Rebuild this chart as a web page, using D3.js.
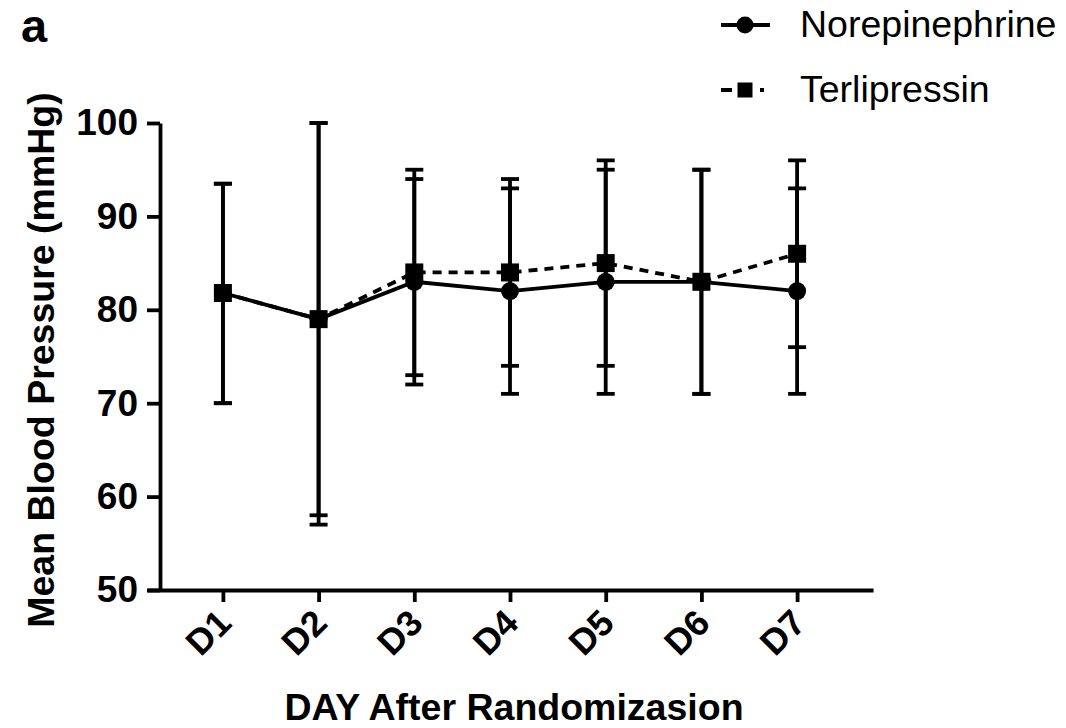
<!DOCTYPE html>
<html>
<head>
<meta charset="utf-8">
<script src="https://cdn.jsdelivr.net/npm/d3@7"></script>
<style>
  html, body { margin: 0; padding: 0; background: #fff; }
  svg { display: block; }
  text { font-family: "Liberation Sans", Arial, sans-serif; fill: #000; }
</style>
</head>
<body>
<svg id="chart" width="1066" height="728"></svg>
<script>
// ---- data ----
const days = ["D1", "D2", "D3", "D4", "D5", "D6", "D7"];
const norMean  = [81.8, 79, 83, 82, 83, 83, 82];
const norUpper = [93.5, 100, 94, 93, 95, 95, 93];
const norLower = [70, 57, 72, 71, 71, 71, 71];
const terMean  = [81.8, 79, 84, 84, 85, 83, 86];
const terUpper = [93.5, 100, 95, 94, 96, 95, 96];
const terLower = [70, 58, 73, 74, 74, 71, 76];
const yTicks = [50, 60, 70, 80, 90, 100];
const seriesNames = ["Norepinephrine", "Terlipressin"];

// ---- layout ----
const svg = d3.select("#chart");
const x = d3.scalePoint().domain(days).range([147, 873]).padding(0.793);
const y = d3.scaleLinear().domain([50, 100]).range([590, 123]);
const SW = 3.8;

// axes
const yAxis = d3.axisLeft(y).tickValues(yTicks).tickSize(13).tickSizeOuter(0).tickPadding(9);
const gy = svg.append("g").attr("transform", "translate(160,0)").call(yAxis);
gy.select(".domain").attr("stroke-width", SW);
gy.selectAll(".tick line").attr("stroke-width", SW);
gy.selectAll(".tick text").attr("font-size", 37).attr("font-weight", "bold")
  .attr("font-family", "Liberation Sans, Arial, sans-serif");

const xAxis = d3.axisBottom(x).tickSize(12).tickSizeOuter(0);
const gx = svg.append("g").attr("transform", "translate(0,590)").call(xAxis);
gx.select(".domain").attr("stroke-width", SW);
gx.selectAll(".tick line").attr("stroke-width", SW);
gx.selectAll(".tick text")
  .attr("font-size", 36).attr("font-weight", "bold")
  .attr("font-family", "Liberation Sans, Arial, sans-serif")
  .attr("text-anchor", "end")
  .attr("dy", null)
  .attr("y", 0)
  .attr("transform", "translate(10,35) rotate(-45)");

// error bars
function errorBars(mean, lower, upper, cls) {
  const g = svg.append("g").attr("class", cls).attr("stroke", "#000").attr("stroke-width", SW);
  days.forEach((d, i) => {
    const cx = x(d);
    g.append("line").attr("x1", cx).attr("x2", cx).attr("y1", y(upper[i])).attr("y2", y(lower[i]));
    [upper[i], lower[i]].forEach(v => {
      g.append("line").attr("x1", cx - 9).attr("x2", cx + 9).attr("y1", y(v)).attr("y2", y(v));
    });
  });
}
errorBars(norMean, norLower, norUpper, "err-nor");
errorBars(terMean, terLower, terUpper, "err-ter");

// lines
const line = d3.line().x((v, i) => x(days[i])).y(v => y(v));
svg.append("path").attr("d", line(norMean)).attr("fill", "none")
  .attr("stroke", "#000").attr("stroke-width", SW);
svg.append("path").attr("d", line(terMean)).attr("fill", "none")
  .attr("stroke", "#000").attr("stroke-width", SW).attr("stroke-dasharray", "9,7");

// markers
svg.append("g").selectAll("circle").data(norMean).join("circle")
  .attr("cx", (v, i) => x(days[i])).attr("cy", v => y(v)).attr("r", 9).attr("fill", "#000");
svg.append("g").selectAll("rect").data(terMean).join("rect")
  .attr("x", (v, i) => x(days[i]) - 9).attr("y", v => y(v) - 9)
  .attr("width", 18).attr("height", 18).attr("fill", "#000");

// axis titles
svg.append("text").attr("transform", "translate(54,360) rotate(-90)")
  .attr("text-anchor", "middle").attr("font-size", 37.5).attr("font-weight", "bold")
  .text("Mean Blood Pressure (mmHg)");
svg.append("text").attr("x", 514).attr("y", 720)
  .attr("text-anchor", "middle").attr("font-size", 37.5).attr("font-weight", "bold")
  .text("DAY After Randomizasion");

// panel letter
svg.append("text").attr("x", 21).attr("y", 42).attr("font-size", 47).attr("font-weight", "bold").text("a");

// legend
const lg = svg.append("g");
lg.append("line").attr("x1", 721).attr("x2", 770).attr("y1", 25).attr("y2", 25)
  .attr("stroke", "#000").attr("stroke-width", SW);
lg.append("circle").attr("cx", 745).attr("cy", 25).attr("r", 8.5).attr("fill", "#000");
lg.append("line").attr("x1", 721).attr("x2", 770).attr("y1", 90).attr("y2", 90)
  .attr("stroke", "#000").attr("stroke-width", SW).attr("stroke-dasharray", "11,28,4,100");
lg.append("rect").attr("x", 737.5).attr("y", 82.5).attr("width", 15).attr("height", 15).attr("fill", "#000");
lg.selectAll("text.lt").data(seriesNames).join("text").attr("class", "lt")
  .attr("x", 800).attr("y", (d, i) => 37 + i * 65).attr("font-size", 37.5).text(d => d);
</script>
</body>
</html>
